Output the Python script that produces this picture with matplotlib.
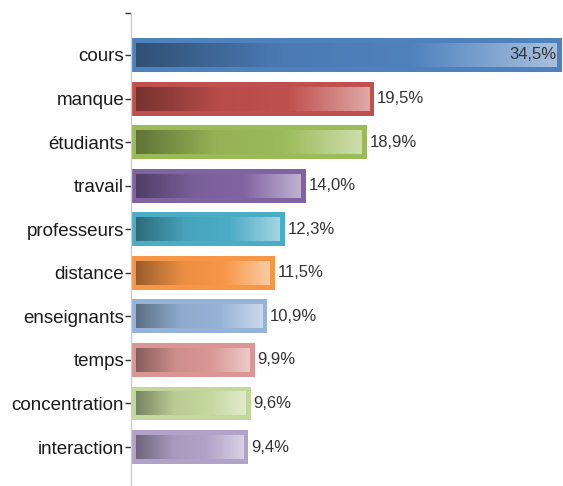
import numpy as np
import matplotlib
matplotlib.use("Agg")
from matplotlib import pyplot as plt
from matplotlib.colors import LinearSegmentedColormap, to_rgb

# données
categories = ["cours", "manque", "étudiants", "travail", "professeurs",
              "distance", "enseignants", "temps", "concentration", "interaction"]
values = [34.5, 19.5, 18.9, 14.0, 12.3, 11.5, 10.9, 9.9, 9.6, 9.4]
labels = ["34,5%", "19,5%", "18,9%", "14,0%", "12,3%",
          "11,5%", "10,9%", "9,9%", "9,6%", "9,4%"]
colors = ["#4F81BD", "#C0504D", "#9BBB59", "#8064A2", "#4BACC6",
          "#F79646", "#95B3D7", "#D99694", "#C3D69B", "#B2A2C7"]

plt.rcParams['font.family'] = ['Liberation Sans', 'DejaVu Sans']

fig = plt.figure(figsize=(5.63, 4.86), dpi=100)
ax = fig.add_axes([131 / 563, 0, 1 - 131 / 563, 1 - 13 / 486])

xmax = 34.6
ytop, ybot = -0.964, 9.894
h = 0.78
dx = 5 * xmax / 432       # bordure ~5 px
dy = 5 / 43.56

def shade(c, f):
    r = np.array(to_rgb(c))
    return tuple(r * f) if f < 1 else tuple(r + (1 - r) * (f - 1))

grad = np.linspace(0, 1, 256).reshape(1, -1)
for i, (v, c) in enumerate(zip(values, colors)):
    ax.barh(i, v, height=h, color=c, linewidth=0, zorder=2)
    cmap = LinearSegmentedColormap.from_list(
        "g", [(0, shade(c, 0.62)), (0.35, shade(c, 0.95)), (0.65, c), (1, shade(c, 1.5))])
    ax.imshow(grad, cmap=cmap, aspect='auto', zorder=3,
              extent=(dx, v - dx, i + h / 2 - dy, i - h / 2 + dy))

for i, (v, lab) in enumerate(zip(values, labels)):
    if i == 0:
        ax.annotate(lab, (v, i), xytext=(-4, 0), textcoords='offset points',
                    ha='right', va='center', fontsize=12, color='#333333', zorder=4)
    else:
        ax.annotate(lab, (v, i), xytext=(2, 0), textcoords='offset points',
                    ha='left', va='center', fontsize=12, color='#333333', zorder=4)

ax.set_xlim(0, xmax)
ax.set_ylim(ybot, ytop)
ax.set_yticks([ytop] + list(range(len(categories))))
ax.set_yticklabels([""] + categories, fontsize=13.5, color='#1a1a1a')
ax.tick_params(axis='y', length=4, width=1, color='#333333', pad=1)
ax.set_xticks([])
for s in ["top", "right", "bottom"]:
    ax.spines[s].set_visible(False)
ax.spines["left"].set_color("#cccccc")
ax.spines["left"].set_linewidth(1)

plt.savefig("out.png", dpi=100)
